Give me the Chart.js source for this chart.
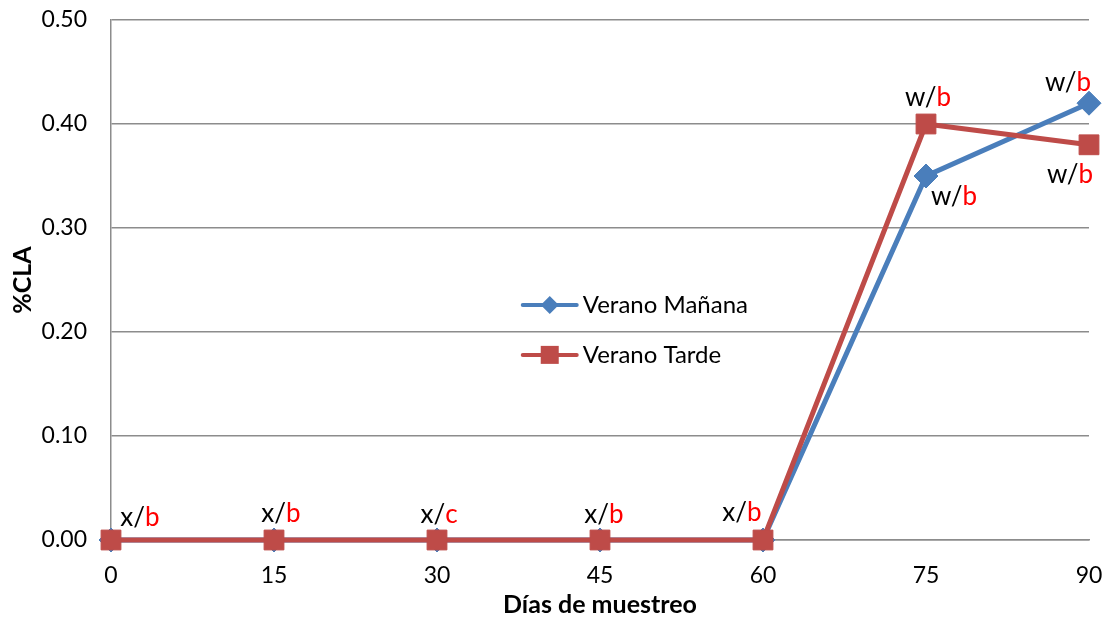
<!DOCTYPE html>
<html>
<head>
<meta charset="utf-8">
<script src="https://cdn.jsdelivr.net/npm/chart.js@4/dist/chart.umd.min.js"></script>
<style>
  html, body { margin: 0; padding: 0; background: #fff; }
  #wrap { width: 1108px; height: 624px; position: relative; }
</style>
</head>
<body>
<div id="wrap"><canvas id="claChart"></canvas></div>
<script>
// datos
const dias = ['0', '15', '30', '45', '60', '75', '90'];
const veranoManana = [0, 0, 0, 0, 0, 0.35, 0.42];
const veranoTarde = [0, 0, 0, 0, 0, 0.40, 0.38];
const yTicks = [0, 0.1, 0.2, 0.3, 0.4, 0.5];

// letras de significancia (negro / rojo)
const grupoDia = ['x', 'x', 'x', 'x', 'x', 'w', 'w'];
const letraManana = ['', '', '', '', '', 'b', 'b'];
const letraTarde = ['b', 'b', 'c', 'b', 'b', 'b', 'b'];

const FONT = 'Lato, "Open Sans", sans-serif';

// desplazamiento de cada etiqueta respecto a su punto (px)
const offsetsManana = [null, null, null, null, null, [28, 21], [-21, -21]];
const offsetsTarde = [[29, -22], [7, -26], [2, -25], [4, -25], [-21, -27], [2, -26], [-19, 30]];

const letrasPlugin = {
    id: 'letras',
    afterDatasetsDraw(chart) {
        const ctx = chart.ctx;
        const sets = [
            { meta: chart.getDatasetMeta(0), letras: letraManana, offs: offsetsManana },
            { meta: chart.getDatasetMeta(1), letras: letraTarde, offs: offsetsTarde }
        ];
        ctx.save();
        ctx.font = '26px ' + FONT;
        ctx.textBaseline = 'middle';
        ctx.textAlign = 'left';
        sets.forEach(s => {
            s.meta.data.forEach((pt, i) => {
                if (!s.letras[i] || !s.offs[i]) return;
                const a = grupoDia[i] + '/';
                const b = s.letras[i];
                const wa = ctx.measureText(a).width;
                const wb = ctx.measureText(b).width;
                const cx = pt.x + s.offs[i][0];
                const cy = pt.y + s.offs[i][1];
                const x0 = cx - (wa + wb) / 2;
                ctx.fillStyle = '#000';
                ctx.fillText(a, x0, cy);
                ctx.fillStyle = '#ff0000';
                ctx.fillText(b, x0 + wa, cy);
            });
        });
        ctx.restore();
    }
};

// leyenda dentro del area de grafico
const leyendaPlugin = {
    id: 'leyendaInterna',
    afterDraw(chart) {
        const ctx = chart.ctx;
        const x = chart.scales.x;
        const y = chart.scales.y;
        const left = x.left + (x.right - x.left) * 0.421;
        const rows = [y.getPixelForValue(0.226), y.getPixelForValue(0.178)];
        ctx.save();
        chart.data.datasets.forEach((ds, i) => {
            const yy = rows[i];
            ctx.strokeStyle = ds.borderColor;
            ctx.lineWidth = 4;
            ctx.lineCap = 'round';
            ctx.beginPath();
            ctx.moveTo(left, yy);
            ctx.lineTo(left + 54, yy);
            ctx.stroke();
            ctx.fillStyle = ds.pointBackgroundColor;
            ctx.beginPath();
            if (ds.pointStyle === 'rect') {
                ctx.rect(left + 18, yy - 9, 18, 18);
            } else {
                ctx.moveTo(left + 27, yy - 9);
                ctx.lineTo(left + 36, yy);
                ctx.lineTo(left + 27, yy + 9);
                ctx.lineTo(left + 18, yy);
                ctx.closePath();
            }
            ctx.fill();
            ctx.fillStyle = '#000';
            ctx.font = '24px ' + FONT;
            ctx.textBaseline = 'middle';
            ctx.textAlign = 'left';
            ctx.fillText(ds.label, left + 60, yy);
        });
        ctx.restore();
    }
};

const ctx = document.getElementById('claChart').getContext('2d');
const claChart = new Chart(ctx, {
    type: 'line',
    data: {
        labels: dias,
        datasets: [{
            label: 'Verano Mañana',
            data: veranoManana,
            borderColor: '#4a7ebb',
            backgroundColor: '#4a7ebb',
            pointBackgroundColor: '#4a7ebb',
            pointBorderColor: '#4a7ebb',
            pointStyle: 'rectRot',
            pointRadius: 12,
            pointBorderWidth: 1,
            borderWidth: 5,
            tension: 0,
            clip: false,
            order: 1
        }, {
            label: 'Verano Tarde',
            data: veranoTarde,
            borderColor: '#be4b48',
            backgroundColor: '#be4b48',
            pointBackgroundColor: '#be4b48',
            pointBorderColor: '#be4b48',
            pointStyle: 'rect',
            pointRadius: 14,
            pointBorderWidth: 1,
            borderWidth: 5,
            tension: 0,
            clip: false,
            order: 0
        }]
    },
    options: {
        responsive: true,
        maintainAspectRatio: false,
        animation: false,
        layout: {
            autoPadding: false,
            padding: { top: 20, right: 19, left: 0, bottom: 0 }
        },
        plugins: {
            legend: { display: false },
            tooltip: { enabled: false }
        },
        scales: {
            x: {
                offset: false,
                afterFit(axis) {
                    axis.height = 84;
                    axis.paddingLeft = 0;
                    axis.paddingRight = 0;
                },
                grid: { display: false, drawTicks: false },
                border: { display: true, color: '#8c8c8c', width: 1.5 },
                ticks: {
                    color: '#000',
                    padding: 22,
                    maxRotation: 0,
                    font: { family: FONT, size: 23 }
                },
                title: {
                    display: true,
                    text: 'Días de muestreo',
                    color: '#000',
                    padding: { top: 0, bottom: 4 },
                    font: { family: FONT, size: 25, weight: 'bold' }
                }
            },
            y: {
                min: 0,
                max: 0.5,
                afterFit(axis) {
                    axis.width = 111;
                    axis.paddingTop = 0;
                    axis.paddingBottom = 0;
                },
                afterBuildTicks(axis) {
                    axis.ticks = yTicks.map(v => ({ value: v }));
                },
                grid: { color: '#8c8c8c', lineWidth: 1.5, drawTicks: false },
                border: { display: true, color: '#8c8c8c', width: 1.5 },
                ticks: {
                    color: '#000',
                    padding: 24,
                    font: { family: FONT, size: 23 },
                    callback: v => v.toFixed(2)
                },
                title: {
                    display: true,
                    text: '%CLA',
                    color: '#000',
                    padding: { top: 8, bottom: 0 },
                    font: { family: FONT, size: 25, weight: 'bold' }
                }
            }
        }
    },
    plugins: [letrasPlugin, leyendaPlugin]
});
</script>
</body>
</html>
